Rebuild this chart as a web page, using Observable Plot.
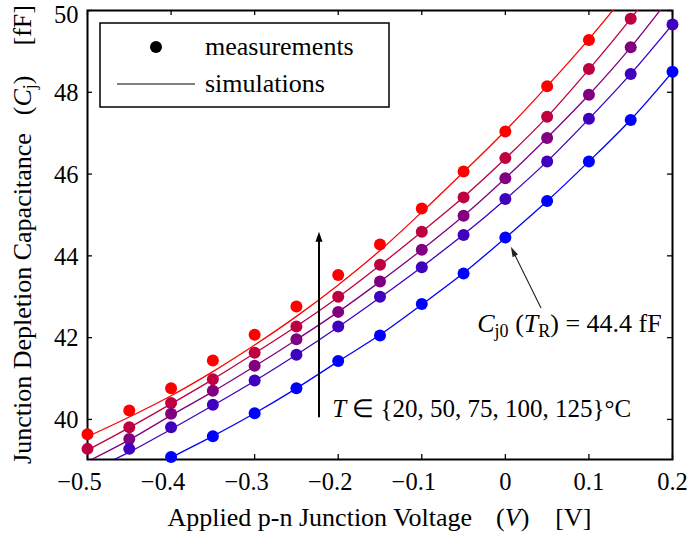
<!DOCTYPE html>
<html><head><meta charset="utf-8">
<script src="https://cdn.jsdelivr.net/npm/d3@7"></script>
<script src="https://cdn.jsdelivr.net/npm/@observablehq/plot@0.6"></script>
<style>
body{margin:0;background:#fff;}
#chart svg{display:block;}
</style></head><body><div id="chart"></div>
<script>
// ---- data ----
const voltages = [-0.5, -0.45, -0.4, -0.35, -0.3, -0.25, -0.2, -0.15, -0.1, -0.05, 0, 0.05, 0.1, 0.15, 0.2];
const temperatures = [125, 100, 75, 50, 20];
const seriesColors = ["#ff0000", "#bf0040", "#800080", "#4000bf", "#0000ff"];

// measurements (null = outside the visible window)
const meas125 = [39.64, 40.22, 40.76, 41.44, 42.07, 42.76, 43.53, 44.28, 45.16, 46.06, 47.04, 48.15, 49.28, null, null];
const meas100 = [39.28, 39.81, 40.40, 40.98, 41.63, 42.27, 43.00, 43.78, 44.59, 45.43, 46.39, 47.40, 48.57, 49.80, null];
const meas75  = [null, 39.52, 40.14, 40.70, 41.31, 41.96, 42.63, 43.37, 44.15, 44.98, 45.90, 46.88, 47.94, 49.10, null];
const meas50  = [null, 39.28, 39.81, 40.36, 40.95, 41.58, 42.27, 43.00, 43.72, 44.51, 45.39, 46.31, 47.35, 48.45, 49.66];
const meas20  = [null, null, 39.08, 39.59, 40.15, 40.76, 41.43, 42.05, 42.82, 43.57, 44.45, 45.34, 46.31, 47.32, 48.50];

// simulations
const sim125 = [39.58, 40.06, 40.58, 41.17, 41.82, 42.52, 43.29, 44.13, 45.07, 46.05, 47.06, 48.15, 49.30, 50.55, 51.90];
const sim100 = [39.25, 39.80, 40.38, 40.98, 41.62, 42.28, 42.99, 43.77, 44.59, 45.44, 46.38, 47.40, 48.56, 49.80, 51.15];
const sim75  = [38.97, 39.50, 40.10, 40.68, 41.30, 41.95, 42.63, 43.37, 44.15, 44.98, 45.90, 46.89, 47.94, 49.10, 50.40];
const sim50  = [38.72, 39.20, 39.76, 40.34, 40.94, 41.58, 42.26, 42.98, 43.73, 44.52, 45.38, 46.31, 47.35, 48.45, 49.66];
const sim20  = [38.08, 38.56, 39.07, 39.59, 40.15, 40.76, 41.42, 42.07, 42.81, 43.58, 44.44, 45.34, 46.31, 47.33, 48.50];

const xTicks = [-0.5, -0.4, -0.3, -0.2, -0.1, 0, 0.1, 0.2];
const yTicks = [40, 42, 44, 46, 48, 50];
const xDomain = [-0.5, 0.2];
const yDomain = [39.02, 50];

// annotations (data coordinates)
const tArrow = {x: -0.223, y1: 40.07, y2: 44.59};
const tLabel = {x: -0.2066, y: 40.05};
const cArrow = {x1: 0.0425, y1: 42.73, x2: 0.0066, y2: 44.22};
const cLabel = {x: -0.033, y: 42.12};

// ---- build rows ----
const measSets = [meas125, meas100, meas75, meas50, meas20];
const simSets = [sim125, sim100, sim75, sim50, sim20];
const measRows = [], simRows = [];
temperatures.forEach((t, i) => {
  measSets[i].forEach((c, j) => { if (c != null) measRows.push({t, V: voltages[j], C: c, color: seriesColors[i]}); });
  simSets[i].forEach((c, j) => { if (c != null) simRows.push({t, V: voltages[j], C: c, color: seriesColors[i]}); });
});

const W = 688, H = 534, mL = 87, mR = 16, mT = 10, mB = 75;
const fw = W - mL - mR, fh = H - mT - mB;
const FONT = "'Liberation Serif', 'Times New Roman', serif";
const FS = 26;      // text size
const TFS = 24.5;   // tick label size
const fmt = d3.format(".1~f");

const pxPerX = fw / (xDomain[1] - xDomain[0]);
const pxPerY = fh / (yDomain[1] - yDomain[0]);
const cAngle = Math.atan2((cArrow.x2 - cArrow.x1) * pxPerX, (cArrow.y2 - cArrow.y1) * pxPerY) * 180 / Math.PI;
const yMax = yDomain[1];

const plot = Plot.plot({
  width: W, height: H,
  marginLeft: mL, marginRight: mR, marginTop: mT, marginBottom: mB,
  style: {fontFamily: FONT, fontSize: TFS + "px", background: "white", color: "black"},
  x: {domain: xDomain, axis: null},
  y: {domain: yDomain, axis: null},
  marks: [
    Plot.frame({stroke: "black", strokeWidth: 2}),
    Plot.tickX(xTicks, {x: d => d, insetTop: fh - 5, stroke: "black", strokeWidth: 1.3}),
    Plot.tickX(xTicks, {x: d => d, insetBottom: fh - 5, stroke: "black", strokeWidth: 1.3}),
    Plot.tickY(yTicks, {y: d => d, insetRight: fw - 5, stroke: "black", strokeWidth: 1.3}),
    Plot.tickY(yTicks, {y: d => d, insetLeft: fw - 5, stroke: "black", strokeWidth: 1.3}),
    Plot.text(xTicks.filter(d => d < 0), {x: d => d, text: d => fmt(d), frameAnchor: "bottom", dy: 23, dx: -8, lineAnchor: "middle", fontSize: TFS}),
    Plot.text(xTicks.filter(d => d >= 0), {x: d => d, text: d => fmt(d), frameAnchor: "bottom", dy: 23, lineAnchor: "middle", fontSize: TFS}),
    Plot.text(yTicks.filter(d => d < yMax), {y: d => d, text: d => String(d), frameAnchor: "left", dx: -9, dy: 1, textAnchor: "end", lineAnchor: "middle", fontSize: TFS}),
    Plot.text(yTicks.filter(d => d >= yMax), {y: d => d, text: d => String(d), frameAnchor: "left", dx: -9, dy: 5, textAnchor: "end", lineAnchor: "middle", fontSize: TFS}),
    Plot.line(simRows, {x: "V", y: "C", z: "t", stroke: "color", strokeWidth: 1.3, curve: "catmull-rom", clip: true}),
    Plot.dot(measRows, {x: "V", y: "C", fill: "color", r: 6}),
    Plot.arrow([tArrow], {x: "x", y1: "y1", y2: "y2", stroke: "black", strokeWidth: 2, headLength: 0, insetEnd: 6}),
    Plot.vector([tArrow], {x: "x", y: "y2", length: 10, rotate: 0, shape: "spike", r: 3.5, anchor: "end", fill: "black", stroke: "none"}),
    Plot.arrow([cArrow], {x1: "x1", y1: "y1", x2: "x2", y2: "y2", stroke: "#222", strokeWidth: 1.1, headLength: 0, insetEnd: 6}),
    Plot.vector([cArrow], {x: "x2", y: "y2", length: 10, rotate: cAngle, shape: "spike", r: 3, anchor: "end", fill: "#222", stroke: "none"})
  ]
});
document.getElementById("chart").appendChild(plot);

const svg = d3.select(plot);
const sx = plot.scale("x"), sy = plot.scale("y");

function makeText(x, y, anchor, transform, size) {
  const t = svg.append("text").attr("text-anchor", anchor)
    .attr("font-family", FONT).attr("font-size", size || FS).attr("fill", "black");
  if (transform) t.attr("transform", transform); else t.attr("x", x).attr("y", y);
  return t;
}
function addText(g, parts) {
  parts.forEach(p => {
    const ts = g.append("tspan").text(p.t);
    if (p.i) ts.attr("font-style", "italic");
    if (p.dx) ts.attr("dx", p.dx);
    if (p.dy) ts.attr("dy", p.dy);
    if (p.fs) ts.attr("font-size", p.fs);
  });
}

// temperature label
addText(makeText(sx.apply(tLabel.x), sy.apply(tLabel.y), "start", null, 25),
  [{t: "T", i: true}, {t: " ∈ {20, 50, 75, 100, 125}°C"}]);

// C_j0 label
addText(makeText(sx.apply(cLabel.x), sy.apply(cLabel.y), "start"),
  [{t: "C", i: true}, {t: "j0", fs: 18, dy: 5}, {t: " (", dy: -5}, {t: "T", i: true}, {t: "R", fs: 18, dy: 5}, {t: ") = 44.4 fF", dy: -5}]);

// x label
addText(makeText(mL + fw / 2, 526, "middle"),
  [{t: "Applied p-n Junction Voltage"}, {t: "(", dx: 24}, {t: "V", i: true}, {t: ")"}, {t: "[V]", dx: 26}]);

// y label
addText(makeText(0, 0, "middle", `translate(31,${mT + fh / 2}) rotate(-90)`),
  [{t: "Junction Depletion Capacitance"}, {t: "(", dx: 18}, {t: "C", i: true}, {t: "j", fs: 18, dy: 5}, {t: ")", dy: -5}, {t: "[fF]", dx: 30}]);

// legend
const lg = svg.append("g");
lg.append("rect").attr("x", 100).attr("y", 23).attr("width", 289).attr("height", 84)
  .attr("fill", "white").attr("stroke", "black").attr("stroke-width", 1.5);
lg.append("circle").attr("cx", 156).attr("cy", 47).attr("r", 6).attr("fill", "black");
lg.append("line").attr("x1", 117).attr("x2", 195).attr("y1", 84).attr("y2", 84).attr("stroke", "black").attr("stroke-width", 1.2);
makeText(205, 55, "start").text("measurements");
makeText(205, 92, "start").text("simulations");
</script></body></html>
